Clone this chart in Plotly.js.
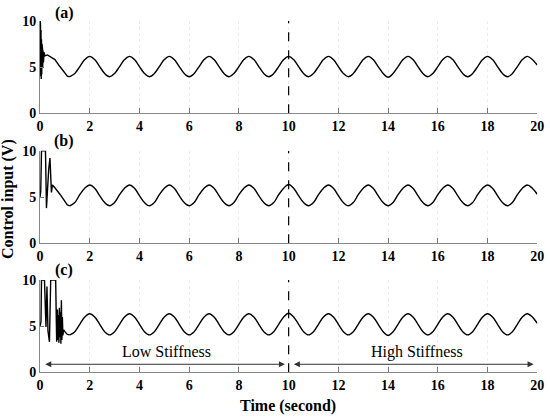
<!DOCTYPE html>
<html>
<head>
<meta charset="utf-8">
<script src="https://cdn.plot.ly/plotly-3.0.1.min.js"></script>
<style>html,body{margin:0;padding:0;background:#fff;}#chart{width:550px;height:419px;}</style>
</head>
<body>
<div id="chart"></div>
<script>
// ---- Data ----
const panelLabels = ['(a)', '(b)', '(c)'];
const xTicks = [0, 2, 4, 6, 8, 10, 12, 14, 16, 18, 20];
const yTicks = [0, 5, 10];
const switchTime = 10;

// transient start-up parts (linear)
const timeTransA = [0, 0.01, 0.02, 0.03, 0.04, 0.05, 0.06, 0.07, 0.08, 0.09, 0.10, 0.11, 0.12, 0.14, 0.16, 0.2, 0.3, 0.4, 0.6, 0.8, 1.0, 1.1, 1.2];
const valTransA  = [5.2, 10, 9.5, 4.0, 9.0, 3.7, 8.0, 4.2, 7.5, 4.6, 7.0, 5.0, 6.8, 5.5, 6.6, 6.2, 6.3, 6.15, 5.8, 5.05, 4.3, 4.02, 3.95];

const timeTransB = [0, 0.03, 0.06, 0.08, 0.22, 0.26, 0.3, 0.35, 0.4, 0.43, 0.46, 0.5, 0.55, 0.6, 0.8, 1.0, 1.1, 1.2];
const valTransB  = [5.0, 5.6, 10, 10, 10, 3.8, 6.0, 8.0, 9.2, 7.0, 5.5, 6.3, 6.1, 6.0, 5.3, 4.45, 4.15, 4.05];

const timeTransC = [0, 0.04, 0.06, 0.18, 0.24, 0.28, 0.32, 0.38, 0.43, 0.63, 0.67, 0.70, 0.72, 0.74, 0.76, 0.78, 0.80, 0.82, 0.84, 0.86, 0.88, 0.90, 0.92, 0.95, 1.0, 1.1, 1.2];
const valTransC  = [5.0, 5.5, 10, 10, 4.9, 9.3, 4.5, 3.3, 10, 10, 3.3, 6.8, 3.5, 6.2, 3.2, 7.0, 3.8, 6.5, 3.1, 7.8, 3.5, 6.0, 4.0, 4.6, 4.4, 4.1, 4.05];

// steady sinusoidal part (read every 0.2 s)
const timeSteady = [
  1.2, 1.4, 1.6, 1.8, 2.0, 2.2, 2.4, 2.6,
  2.8, 3.0, 3.2, 3.4, 3.6, 3.8, 4.0, 4.2,
  4.4, 4.6, 4.8, 5.0, 5.2, 5.4, 5.6, 5.8,
  6.0, 6.2, 6.4, 6.6, 6.8, 7.0, 7.2, 7.4,
  7.6, 7.8, 8.0, 8.2, 8.4, 8.6, 8.8, 9.0,
  9.2, 9.4, 9.6, 9.8, 10.0, 10.2, 10.4, 10.6,
  10.8, 11.0, 11.2, 11.4, 11.6, 11.8, 12.0, 12.2,
  12.4, 12.6, 12.8, 13.0, 13.2, 13.4, 13.6, 13.8,
  14.0, 14.2, 14.4, 14.6, 14.8, 15.0, 15.2, 15.4,
  15.6, 15.8, 16.0, 16.2, 16.4, 16.6, 16.8, 17.0,
  17.2, 17.4, 17.6, 17.8, 18.0, 18.2, 18.4, 18.6,
  18.8, 19.0, 19.2, 19.4, 19.6, 19.8, 20.0];
const valSteadyA = [
  3.95, 4.3, 5.05, 5.8, 6.15, 5.8, 5.05, 4.3,
  3.95, 4.3, 5.05, 5.8, 6.15, 5.8, 5.05, 4.3,
  3.95, 4.3, 5.05, 5.8, 6.15, 5.8, 5.05, 4.3,
  3.95, 4.3, 5.05, 5.8, 6.15, 5.8, 5.05, 4.3,
  3.95, 4.3, 5.05, 5.8, 6.15, 5.8, 5.05, 4.3,
  3.95, 4.3, 5.05, 5.8, 6.15, 5.8, 5.05, 4.3,
  3.95, 4.3, 5.05, 5.8, 6.15, 5.8, 5.05, 4.3,
  3.95, 4.3, 5.05, 5.8, 6.15, 5.8, 5.05, 4.3,
  3.9, 4.3, 5.05, 5.8, 6.15, 5.8, 5.05, 4.3,
  3.95, 4.3, 5.05, 5.8, 6.15, 5.8, 5.05, 4.3,
  3.95, 4.3, 5.05, 5.8, 6.15, 5.8, 5.05, 4.3,
  3.95, 4.3, 5.05, 5.8, 6.15, 5.8, 5.2];
const valSteadyB = [
  4.05, 4.4, 5.25, 5.95, 6.3, 5.95, 5.15, 4.4,
  4.05, 4.4, 5.25, 5.95, 6.3, 5.95, 5.15, 4.4,
  4.05, 4.4, 5.25, 5.95, 6.3, 5.95, 5.15, 4.4,
  4.05, 4.4, 5.25, 5.95, 6.3, 5.95, 5.15, 4.4,
  4.05, 4.4, 5.25, 5.95, 6.3, 5.95, 5.15, 4.4,
  4.05, 4.4, 5.25, 5.95, 6.35, 5.95, 5.15, 4.4,
  4.05, 4.4, 5.25, 5.95, 6.3, 5.95, 5.15, 4.4,
  4.05, 4.4, 5.25, 5.95, 6.3, 5.95, 5.15, 4.4,
  4.05, 4.4, 5.25, 5.95, 6.3, 5.95, 5.15, 4.4,
  4.05, 4.4, 5.25, 5.95, 6.3, 5.95, 5.15, 4.4,
  4.05, 4.4, 5.25, 5.95, 6.3, 5.95, 5.15, 4.4,
  4.05, 4.4, 5.25, 5.95, 6.3, 5.95, 5.3];
const valSteadyC = [
  4.05, 4.4, 5.2, 6.0, 6.35, 6.0, 5.2, 4.4,
  4.05, 4.4, 5.2, 6.0, 6.35, 6.0, 5.2, 4.4,
  4.05, 4.4, 5.2, 6.0, 6.35, 6.0, 5.2, 4.4,
  4.05, 4.4, 5.2, 6.0, 6.35, 6.0, 5.2, 4.4,
  4.05, 4.4, 5.2, 6.0, 6.35, 6.0, 5.2, 4.4,
  4.05, 4.4, 5.2, 6.0, 6.4, 6.0, 5.2, 4.4,
  4.05, 4.4, 5.2, 6.0, 6.35, 6.0, 5.2, 4.4,
  4.05, 4.4, 5.2, 6.0, 6.35, 6.0, 5.2, 4.4,
  4.0, 4.4, 5.2, 6.0, 6.35, 6.0, 5.2, 4.4,
  4.05, 4.4, 5.2, 6.0, 6.35, 6.0, 5.2, 4.4,
  4.05, 4.4, 5.2, 6.0, 6.35, 6.0, 5.2, 4.4,
  4.05, 4.4, 5.2, 6.0, 6.35, 6.0, 5.3];

// region arrows and labels (panel c)
const regionNames = ['Low Stiffness', 'High Stiffness'];
const regionStart = [0.15, 10.15];
const regionEnd = [9.85, 19.85];
const regionTextX = [5.1, 15.15];
const arrowLevel = 0.87;
const regionTextY = 2.25;

// ---- Plot ----
const W = 550, H = 419;
const serif = '"Liberation Serif"';
const lineStyle = {color: '#000', width: 1.4};

const panels = [
  {t: timeTransA, v: valTransA, s: valSteadyA},
  {t: timeTransB, v: valTransB, s: valSteadyB},
  {t: timeTransC, v: valTransC, s: valSteadyC}
];
const tops = [20.7, 150.7, 280];
const bottoms = [113.3, 243.3, 372.3];
const xLeft = 40, xRight = 537.3;

const traces = [];
const layout = {
  width: W, height: H,
  margin: {l: 0, r: 0, t: 0, b: 0},
  paper_bgcolor: '#fff', plot_bgcolor: '#fff',
  showlegend: false,
  font: {family: serif, color: '#000'},
  shapes: [], annotations: []
};

panels.forEach((p, i) => {
  const n = i === 0 ? '' : String(i + 1);
  traces.push({x: p.t, y: p.v, xaxis: 'x' + n, yaxis: 'y' + n, mode: 'lines', line: Object.assign({shape: 'linear'}, lineStyle), hoverinfo: 'skip'});
  traces.push({x: timeSteady, y: p.s, xaxis: 'x' + n, yaxis: 'y' + n, mode: 'lines', line: Object.assign({shape: 'spline', smoothing: 1}, lineStyle), hoverinfo: 'skip'});
  const yd = [1 - bottoms[i] / H, 1 - tops[i] / H];
  layout['xaxis' + n] = {
    domain: [xLeft / W, xRight / W], range: [0, 20], anchor: 'y' + n,
    tickvals: xTicks, ticks: 'inside', ticklen: 5, tickcolor: '#777', tickwidth: 1,
    showline: true, linecolor: '#888', linewidth: 1,
    showgrid: true, gridcolor: '#ececec', griddash: 'dot', gridwidth: 1,
    zeroline: false,
    tickfont: {family: serif, size: 14, weight: 'bold', color: '#000'}
  };
  layout['yaxis' + n] = {
    domain: yd, range: [0, 10], anchor: 'x' + n,
    tickvals: yTicks, ticks: 'inside', ticklen: 4, tickcolor: '#777', tickwidth: 1,
    showline: true, linecolor: '#888', linewidth: 1,
    showgrid: false, zeroline: false,
    tickfont: {family: serif, size: 14, weight: 'bold', color: '#000'}
  };
  layout.shapes.push({type: 'line', xref: 'x' + n, yref: 'y' + n, x0: switchTime, x1: switchTime, y0: 0, y1: 10,
    line: {color: '#000', width: 1.2, dash: 'dash'}});
  layout.annotations.push({xref: 'paper', yref: 'paper', x: 64 / W, y: 1 - [13, 141, 270][i] / H,
    text: '<b>' + panelLabels[i] + '</b>', showarrow: false, font: {family: serif, size: 16, color: '#000'},
    xanchor: 'center', yanchor: 'middle'});
});

regionNames.forEach((name, j) => {
  layout.annotations.push({xref: 'x3', yref: 'y3', axref: 'x3', ayref: 'y3',
    x: regionEnd[j], y: arrowLevel, ax: regionStart[j], ay: arrowLevel, text: '',
    showarrow: true, arrowside: 'end+start', arrowhead: 2, arrowsize: 1.2, arrowwidth: 1, arrowcolor: '#333'});
  layout.annotations.push({xref: 'x3', yref: 'y3', x: regionTextX[j], y: regionTextY, text: name,
    showarrow: false, font: {family: serif, size: 16, color: '#000'}, xanchor: 'center', yanchor: 'middle'});
});

layout.annotations.push({xref: 'paper', yref: 'paper', x: 288 / W, y: 1 - 405.7 / H, text: '<b>Time (second)</b>',
  showarrow: false, font: {family: serif, size: 16, color: '#000'}, xanchor: 'center', yanchor: 'middle'});
layout.annotations.push({xref: 'paper', yref: 'paper', x: 8 / W, y: 1 - 199 / H, text: '<b>Control input (V)</b>',
  showarrow: false, textangle: -90, font: {family: serif, size: 16, color: '#000'}, xanchor: 'center', yanchor: 'middle'});

Plotly.newPlot('chart', traces, layout, {staticPlot: true, displayModeBar: false});
</script>
</body>
</html>
